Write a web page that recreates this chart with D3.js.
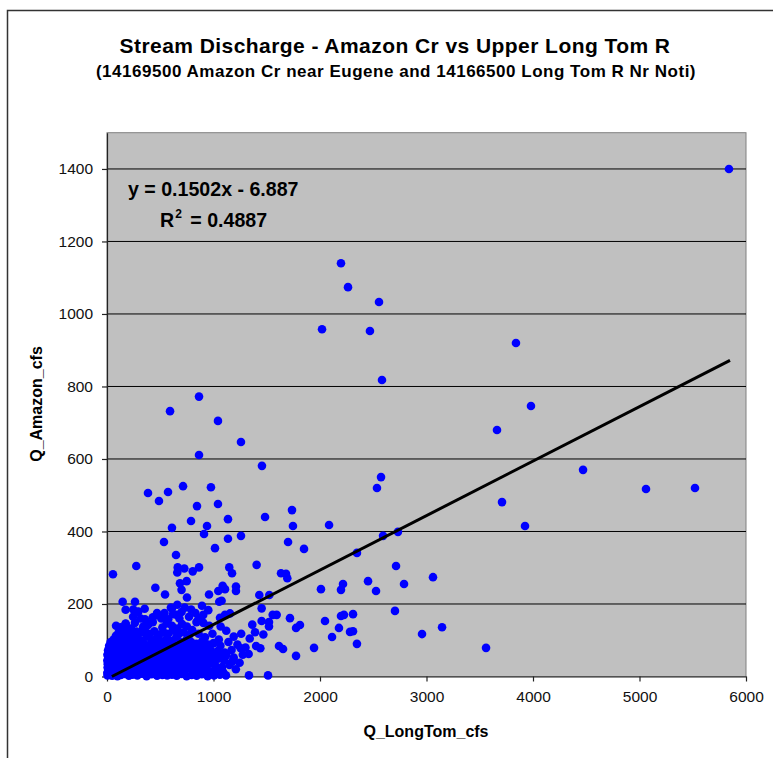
<!DOCTYPE html>
<html><head><meta charset="utf-8">
<script src="https://cdn.jsdelivr.net/npm/d3@7"></script>
<style>html,body{margin:0;padding:0;background:#fff}svg{display:block}text{font-family:"Liberation Sans",Arial,sans-serif;fill:#000}</style>
</head><body><svg id="c" width="773" height="758"></svg>
<script>
const titleText = "Stream Discharge - Amazon Cr vs Upper Long Tom R";
const subtitleText = "(14169500 Amazon Cr near Eugene and 14166500 Long Tom R Nr Noti)";
const xAxisTitle = "Q_LongTom_cfs";
const yAxisTitle = "Q_Amazon_cfs";
const xTicks = [0,1000,2000,3000,4000,5000,6000];
const yTicks = [0,200,400,600,800,1000,1200,1400];
const trendX = [46,5850];
const trendY = [0,872];

const scatterX = [5840,2197,2263,2554,2019,2469,3840,2582,3981,592,864,1042,1258,3662,864,1455,4470,2573,2535,5061,5521,714,976,3709,385,573,488,1042,845,1737,1484,1136,789,1746,939,610,2085,3925,911,1258,1136,1700,535,2592,2732,1850,1014,2347,648,
 56,275,454,545,147,263,175,247,294,354,316,357,175,84,35,3,664,660,726,805,864,748,685,700,751,958,1148,1174,1405,1634,1693,1211,1211,1045,1086,1108,1076,1054,1430,1524,1452,1556,1593,1718,1452,1364,1521,1468,1067,1061,1108,1155,892,951,904,610,660,466,
 1681,1775,1812,1775,1653,1615,1521,2047,2009,2216,2197,2197,2225,2178,2113,2282,2310,2310,2347,2451,2526,2714,2704,2789,3061,2958,3146,3559,1944,1333,1512,1117];
const scatterY = [1400,1140,1074,1033,958,953,920,818,746,732,772,705,647,680,611,581,570,550,520,517,520,525,522,481,506,509,484,476,470,459,440,434,429,415,415,410,418,415,393,388,380,371,371,388,399,352,354,341,335,
 282,305,245,226,206,206,184,185,179,187,160,158,146,112,85,44,301,287,298,290,301,263,257,239,218,226,301,285,308,285,271,248,236,236,250,241,209,206,225,225,188,170,170,161,153,143,138,116,138,162,170,174,195,183,170,188,198,170,
 283,134,142,57,76,84,150,153,241,255,239,167,170,134,109,123,125,172,90,263,236,305,181,255,274,117,136,79,79,3,3,3];

const clusterX = [5,22,48,70,98,130,165,205,240,285,330,372,418,470,520,565,
 610,655,700,748,795,842,890,945,1005,1060,12,35,60,88,118,150,
 185,225,262,300,345,390,435,480,530,575,625,670,715,760,810,860,
 915,975,1035,1090,8,30,55,80,112,142,178,215,255,292,335,380,
 425,472,518,568,612,660,708,752,800,850,905,962,1018,1080,1150,1210,
 15,38,62,92,125,158,195,232,272,312,355,398,445,495,540,590,
 635,680,728,775,822,872,925,985,1042,1100,1175,1245,25,50,78,108,
 140,172,210,248,288,325,368,410,455,505,552,600,648,692,740,785,
 835,888,940,995,1055,1120,1190,1275,45,72,102,135,165,200,240,278,
 318,358,402,448,492,538,585,630,675,722,770,818,868,918,975,1040,
 1105,1170,1255,1330,62,95,130,170,205,245,285,330,372,420,465,512,
 560,605,650,695,745,790,840,895,950,1000,1065,1140,1225,1300,1400,1440,
 110,150,190,235,275,310,355,400,445,490,530,575,620,670,720,770,
 85,128,175,225,262,340,385,430,520,560,610,660,705,750,800,860,
 920,990,1050,1120,1190,1260,1340,1390,245,290,335,470,600,655,700,840,
 430,510,540,575,620,680,730,770,790,830,860,905,960,
 18,52,84,115,148,182,218,254,295,338,382,428,475,522,572,618,
 668,712,765,815,868,930,32,66,104,138,172,212,250,296,340,384,
 432,480,526,580,628,678,726,778,830,885,20,58,90,122,160,198,
 236,276,322,364,408,458,506,556,604,644,690,736,782,828,880,935,
 40,76,118,152,192,228,268,306,350,392,438,486,534,582,626,664,
 710,756,808,858,912,72,108,146,186,222,264,302,348,388,436,482,
 528,572,616,662,706,754,802,852,900,952,4,10,14,6,20,28,
 34,42,3,9,26,44,66,86,106,128,150,176,198,222,246,272,
 298,326,352,378,404,432,458,484,510,538,564,592];
const clusterY = [3,8,2,6,1,4,7,2,5,3,8,1,6,2,4,3,
 5,2,7,1,4,2,6,1,3,5,18,22,15,20,14,19,
 13,21,16,12,20,15,22,13,18,14,21,12,17,23,13,16,
 20,14,18,12,35,30,38,32,36,29,34,39,31,37,28,33,
 38,30,35,29,37,32,28,36,31,34,29,37,30,26,32,20,
 50,46,54,48,52,45,55,49,44,53,47,51,56,45,50,48,
 54,46,52,47,44,51,46,42,49,44,41,38,66,70,62,68,
 63,71,65,60,69,64,72,61,67,70,62,66,60,68,63,58,
 66,60,57,62,55,59,52,60,85,80,88,78,84,90,82,76,
 86,79,83,89,77,84,80,87,76,82,74,79,73,78,72,70,
 66,73,78,62,102,97,105,99,108,96,103,98,110,100,106,97,
 104,98,108,94,101,95,90,98,88,92,85,95,88,80,84,78,
 122,118,126,115,124,120,128,118,125,116,122,118,127,116,122,114,
 140,136,145,132,148,138,142,150,135,146,140,132,145,138,128,118,
 108,118,102,126,110,118,105,122,165,178,130,175,190,170,178,150,
 163,160,175,158,172,160,190,165,185,175,160,148,140,
 28,33,26,30,25,27,31,24,26,29,23,27,30,25,28,24,
 27,24,29,23,26,24,42,41,44,40,43,45,41,43,40,44,
 42,39,45,41,40,43,38,41,39,40,58,60,56,59,57,61,
 55,60,58,56,61,57,59,55,58,56,57,54,53,55,52,50,
 75,78,72,74,77,73,70,75,71,76,72,70,74,69,73,71,
 68,72,66,69,65,92,90,94,88,91,87,93,89,86,92,88,
 90,86,91,84,87,83,86,82,84,80,60,72,48,25,85,12,
 95,78,10,34,6,10,11,9,12,10,8,11,9,13,10,12,
 9,11,10,12,8,11,9,10,12,9,11,10];

const svg = d3.select("#c");
const x = d3.scaleLinear().domain([0,6000]).range([107,746]);
const y = d3.scaleLinear().domain([0,1500]).range([676.5,132.7]);

// chart frame
svg.append("path").attr("d","M7.5,758V10.5H773").attr("fill","none").attr("stroke","#333").attr("stroke-width",1.5);
// plot area
svg.append("rect").attr("x",x(0)).attr("y",y(1500)).attr("width",x(6000)-x(0)).attr("height",y(0)-y(1500))
  .attr("fill","#c0c0c0").attr("stroke","#808080").attr("stroke-width",1);
// gridlines
svg.append("g").selectAll("line").data(yTicks.filter(d=>d>0)).join("line")
  .attr("x1",x(0)).attr("x2",x(6000)).attr("y1",d=>y(d)).attr("y2",d=>y(d))
  .attr("stroke","#000").attr("stroke-width",1);
// axes
const gx = svg.append("g").attr("transform",`translate(0,${y(0)})`)
  .call(d3.axisBottom(x).tickValues(xTicks).tickFormat(d3.format("d")).tickSize(5).tickSizeOuter(0).tickPadding(9));
const gy = svg.append("g").attr("transform",`translate(${x(0)},0)`)
  .call(d3.axisLeft(y).tickValues(yTicks).tickFormat(d3.format("d")).tickSize(5).tickSizeOuter(0).tickPadding(9));
[gx,gy].forEach(g=>{g.selectAll("text").style("font-size","15.5px").style("fill","#111");
  g.selectAll("line,path").attr("stroke","#222").attr("stroke-width",1.2);});
// dots
const all = d3.range(clusterX.length).map(i=>[clusterX[i],clusterY[i]])
  .concat(d3.range(scatterX.length).map(i=>[scatterX[i],scatterY[i]]));
svg.append("g").selectAll("circle").data(all).join("circle")
  .attr("cx",d=>x(d[0])).attr("cy",d=>y(d[1])).attr("r",4.3).attr("fill","#0000ff");
// trend
svg.append("line").attr("x1",x(trendX[0])).attr("y1",y(trendY[0])).attr("x2",x(trendX[1])).attr("y2",y(trendY[1]))
  .attr("stroke","#000").attr("stroke-width",3);
// titles
svg.append("text").attr("x",395).attr("y",53).attr("text-anchor","middle").style("font-size","21px").style("letter-spacing","0.44px").style("font-weight","bold").text(titleText);
svg.append("text").attr("x",396).attr("y",77).attr("text-anchor","middle").style("font-size","17px").style("letter-spacing","0.52px").style("font-weight","bold").text(subtitleText);
svg.append("text").attr("x",426).attr("y",737).attr("text-anchor","middle").style("font-size","16px").style("font-weight","bold").text(xAxisTitle);
svg.append("text").attr("transform","translate(42,404) rotate(-90)").attr("text-anchor","middle").style("font-size","16px").style("font-weight","bold").text(yAxisTitle);
// equation
svg.append("text").attr("x",128).attr("y",196).style("font-size","19.6px").style("font-weight","bold").text("y = 0.1502x - 6.887");
const r2 = svg.append("text").attr("x",160).attr("y",227).style("font-size","19.6px").style("font-weight","bold");
r2.append("tspan").text("R");
r2.append("tspan").attr("dy",-9).attr("dx",1).style("font-size","12px").text("2");
r2.append("tspan").attr("dy",9).attr("dx",3).text(" = 0.4887");
</script></body></html>
